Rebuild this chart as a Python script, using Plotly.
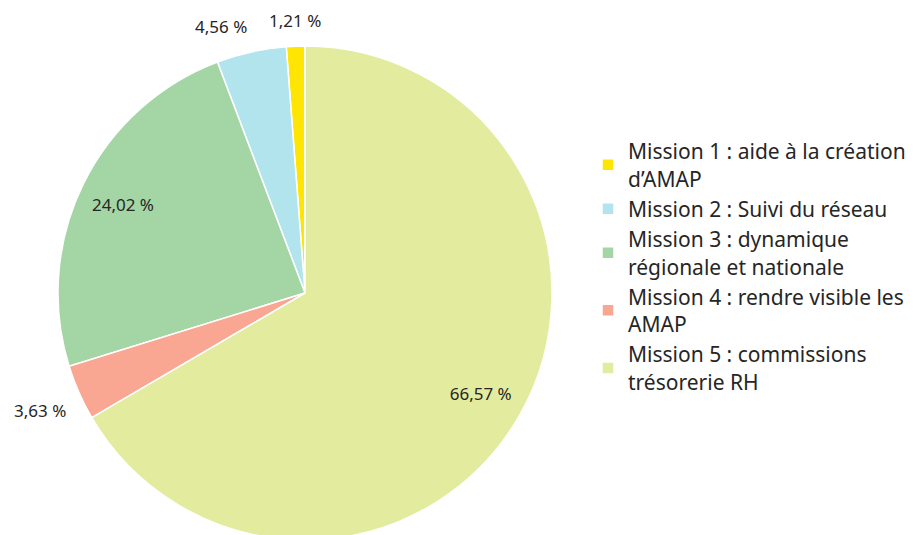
import math
import plotly.graph_objects as go

labels = [
    "Mission 1 : aide à la création<br>d’AMAP",
    "Mission 2 : Suivi du réseau",
    "Mission 3 : dynamique<br>régionale et nationale",
    "Mission 4 : rendre visible les<br>AMAP",
    "Mission 5 : commissions<br>trésorerie RH",
]
values = [1.21, 4.56, 24.02, 3.63, 66.57]
text_labels = ["1,21 %", "4,56 %", "24,02 %", "3,63 %", "66,57 %"]
colors = ["#ffe503", "#b2e4ed", "#a4d5a5", "#f9a692", "#e3ec9e"]
is_outside = [True, True, False, True, False]

FONT = "Noto Sans"
TXT = "#262626"
NUM_SIZE = 17

W, H = 917, 535
M = dict(l=0, r=0, t=38, b=3)
DOM_X = [0, 594 / W]
DOM_Y = [0, 1]

# first slice should start at 12 o'clock going counterclockwise
rotation = -values[0] / sum(values) * 360
common = dict(labels=labels, values=values, sort=False,
              direction="counterclockwise", rotation=rotation,
              domain=dict(x=DOM_X, y=DOM_Y))

fig = go.Figure()
# visible pie
fig.add_trace(go.Pie(
    **common,
    textinfo="none",
    marker=dict(colors=colors, line=dict(color="white", width=1.5)),
    hoverinfo="label+percent",
))
# transparent ring carrying the inside labels near the rim
fig.add_trace(go.Pie(
    **common,
    text=[t if not o else "" for t, o in zip(text_labels, is_outside)],
    textinfo="text",
    textposition="inside",
    insidetextorientation="horizontal",
    hole=0.64,
    marker=dict(colors=["rgba(0,0,0,0)"] * len(values), line=dict(width=0)),
    textfont=dict(family=FONT, size=NUM_SIZE, color=TXT),
    showlegend=False,
    hoverinfo="skip",
))

# outside labels: placed just beyond the rim at each slice's mid angle
pw, ph = W - M["l"] - M["r"], H - M["t"] - M["b"]
cx = M["l"] + pw * (DOM_X[0] + DOM_X[1]) / 2
cy = M["t"] + ph * (1 - (DOM_Y[0] + DOM_Y[1]) / 2)
R = min(pw * (DOM_X[1] - DOM_X[0]), ph * (DOM_Y[1] - DOM_Y[0])) / 2
GAP = 12
total = sum(values)
cum = 0.0
for v, t, o in zip(values, text_labels, is_outside):
    theta = 2 * math.pi * (cum + v / 2) / total
    cum += v
    if not o:
        continue
    s, c = math.sin(theta), math.cos(theta)
    px = cx - s * (R + GAP)
    py = cy - c * (R + GAP)
    xanchor = "center" if abs(s) < 0.2 else ("right" if s > 0 else "left")
    yanchor = "middle" if abs(c) < 0.2 else ("bottom" if c > 0 else "top")
    fig.add_annotation(
        x=(px - M["l"]) / pw, y=(H - M["b"] - py) / ph,
        xref="paper", yref="paper",
        text=t, showarrow=False,
        xanchor=xanchor, yanchor=yanchor,
        font=dict(family=FONT, size=NUM_SIZE, color=TXT),
    )

fig.update_layout(
    width=W,
    height=H,
    margin=dict(**M, autoexpand=False),
    paper_bgcolor="white",
    plot_bgcolor="white",
    font=dict(family=FONT, color=TXT),
    showlegend=True,
    legend=dict(
        xref="container", yref="container",
        x=0.6325, y=0.52, xanchor="left", yanchor="middle",
        font=dict(family=FONT, size=21, color=TXT),
        itemwidth=30,
        tracegroupgap=0,
    ),
)

fig.write_html("out.html")
